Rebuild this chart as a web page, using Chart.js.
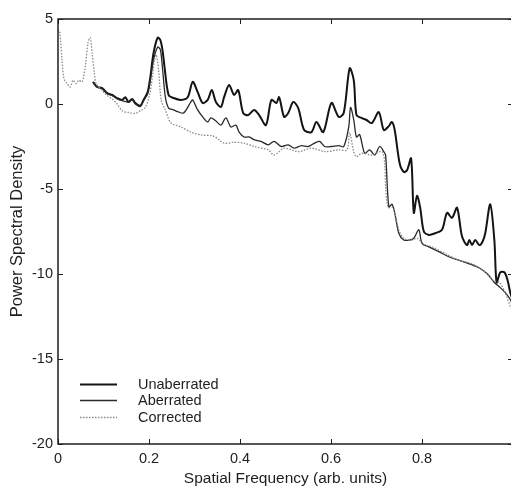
<!DOCTYPE html>
<html>
<head>
<meta charset="utf-8">
<script src="https://cdn.jsdelivr.net/npm/chart.js@4.4.0/dist/chart.umd.min.js"></script>
<style>
  html, body { margin: 0; padding: 0; background: #fff; overflow: hidden; }
  #wrap { width: 518px; height: 491px; }
  #c { display: block; width: 518px; height: 491px; }
</style>
</head>
<body>
<div id="wrap"><canvas id="c" width="518" height="491"></canvas></div>
<script>
// ---- data ----
const seriesNames = ['Unaberrated', 'Aberrated', 'Corrected'];
const xTickValues = [0, 0.2, 0.4, 0.6, 0.8];
const xTickLabels = ['0', '0.2', '0.4', '0.6', '0.8'];
const yTickValues = [5, 0, -5, -10, -15, -20];
const yTickLabels = ['5', '0', '-5', '-10', '-15', '-20'];
const xTitle = 'Spatial Frequency (arb. units)';
const yTitle = 'Power Spectral Density';

const unabX = [0.077,0.086,0.097,0.108,0.119,0.130,0.141,0.148,0.155,0.163,0.170,0.181,0.188,0.197,0.203,0.210,0.219,0.225,0.230,0.234,0.243,0.254,0.270,0.285,0.296,0.307,0.318,0.329,0.338,0.347,0.358,0.365,0.376,0.387,0.396,0.407,0.418,0.431,0.442,0.457,0.469,0.480,0.486,0.497,0.506,0.517,0.528,0.541,0.557,0.568,0.583,0.601,0.617,0.628,0.641,0.650,0.656,0.667,0.678,0.690,0.705,0.716,0.727,0.734,0.740,0.751,0.760,0.767,0.776,0.782,0.789,0.796,0.804,0.815,0.829,0.844,0.855,0.866,0.877,0.888,0.899,0.904,0.910,0.917,0.926,0.933,0.939,0.950,0.959,0.964,0.972,0.981,0.988,0.994,0.999,1.0];
const unabY = [1.3,1.0,0.94,0.65,0.53,0.35,0.24,0.4,0.12,0.3,0.06,-0.1,0.24,0.7,1.6,3.0,3.9,3.76,3.1,2.2,0.53,0.35,0.24,0.4,1.3,0.7,0.06,0.24,0.82,0.12,-0.17,0.4,1.12,0.53,0.82,-0.53,-0.65,-0.35,-0.65,-1.24,0.24,0.06,0.4,-0.76,-0.53,0.12,-0.24,-1.53,-1.65,-1.06,-1.65,0.06,-0.76,-0.53,2.1,1.4,-0.65,-0.82,-0.94,-1.12,-0.47,-1.53,-1.3,-1.06,-1.53,-3.5,-4.0,-3.9,-3.2,-6.4,-5.4,-6.1,-7.5,-7.7,-7.6,-7.4,-6.4,-6.7,-6.1,-7.8,-8.3,-8.0,-8.3,-8.0,-8.3,-8.1,-7.6,-5.9,-8.0,-10.5,-9.9,-9.9,-10.35,-11.1,-11.5,-11.6];

const aberX = [0.077,0.086,0.097,0.108,0.119,0.130,0.141,0.155,0.163,0.170,0.181,0.188,0.197,0.203,0.210,0.219,0.225,0.230,0.236,0.243,0.254,0.263,0.276,0.292,0.296,0.307,0.318,0.329,0.336,0.347,0.358,0.369,0.380,0.391,0.398,0.409,0.420,0.431,0.446,0.462,0.475,0.491,0.506,0.519,0.535,0.550,0.564,0.575,0.586,0.601,0.617,0.628,0.639,0.643,0.650,0.656,0.663,0.674,0.685,0.696,0.707,0.716,0.720,0.727,0.734,0.740,0.749,0.760,0.773,0.782,0.793,0.800,0.815,0.838,0.860,0.882,0.904,0.926,0.944,0.959,0.972,0.983,0.994,1.0];
const aberY = [1.3,1.0,0.9,0.6,0.5,0.3,0.2,0.1,0.25,0.0,-0.15,0.2,0.6,1.4,2.6,3.35,3.2,2.0,0.4,-0.24,-0.35,-0.45,-0.53,0.12,0.24,-0.35,-0.76,-1.06,-0.82,-1.0,-1.24,-0.82,-1.35,-1.24,-1.65,-1.94,-1.94,-2.1,-2.2,-2.4,-2.2,-2.5,-2.4,-2.6,-2.45,-2.5,-2.3,-2.2,-2.5,-2.5,-2.45,-2.5,-1.35,-0.2,-0.94,-1.94,-1.8,-2.9,-2.7,-3.0,-2.5,-2.8,-3.0,-6.05,-5.9,-6.4,-7.6,-8.0,-8.0,-7.9,-7.4,-8.2,-8.4,-8.7,-9.0,-9.2,-9.4,-9.65,-10.0,-10.5,-10.8,-11.1,-11.5,-11.9];

const corrX = [0.000,0.004,0.009,0.013,0.020,0.027,0.033,0.040,0.046,0.053,0.060,0.066,0.071,0.075,0.080,0.084,0.097,0.108,0.119,0.130,0.141,0.155,0.170,0.181,0.192,0.201,0.207,0.212,0.216,0.221,0.227,0.236,0.248,0.270,0.292,0.314,0.343,0.365,0.387,0.409,0.431,0.462,0.475,0.497,0.528,0.557,0.586,0.617,0.635,0.641,0.650,0.656,0.667,0.690,0.712,0.718,0.720,0.723,0.727,0.734,0.740,0.749,0.760,0.778,0.789,0.807,0.822,0.851,0.882,0.910,0.939,0.955,0.970,0.983,0.994,1.0];
const corrY = [4.4,4.2,2.5,1.5,1.2,1.0,1.4,1.2,1.4,1.3,2.2,3.6,3.9,3.0,1.8,1.2,0.8,0.5,0.3,0.0,-0.4,-0.5,-0.55,-0.4,-0.2,0.5,1.5,2.6,2.9,2.0,0.2,-0.35,-1.1,-1.35,-1.65,-1.82,-1.9,-2.3,-2.25,-2.3,-2.5,-2.7,-3.0,-2.6,-2.8,-2.6,-2.8,-2.7,-2.7,-1.7,-2.8,-3.1,-2.9,-3.0,-2.8,-3.5,-4.9,-5.8,-6.1,-6.05,-6.4,-7.4,-7.9,-8.0,-7.9,-8.3,-8.4,-8.8,-9.2,-9.4,-9.9,-10.35,-10.5,-11.1,-11.9,-12.1];

const toPts = (xs, ys) => xs.map((x, i) => ({ x: x, y: ys[i] }));

const FONT = "'Liberation Sans', Arial, Helvetica, sans-serif";
const INK = '#1e1e1e';

const styles = [
  { color: '#141414', width: 2.0, dash: [] },
  { color: '#2a2a2a', width: 1.3, dash: [] },
  { color: '#8a8a8a', width: 1.3, dash: [1.5, 1.5] }
];

const frameAndLegend = {
  id: 'frameAndLegend',
  afterDatasetsDraw(chart) {
    const { ctx, chartArea: a, scales } = chart;
    ctx.save();
    ctx.strokeStyle = INK;
    ctx.lineWidth = 1.5;
    ctx.strokeRect(a.left, a.top, a.right - a.left, a.bottom - a.top);
    ctx.lineWidth = 1;
    const tl = 5;
    xTickValues.forEach(v => {
      const px = Math.round(scales.x.getPixelForValue(v)) + 0.5;
      ctx.beginPath();
      ctx.moveTo(px, a.bottom); ctx.lineTo(px, a.bottom - tl);
      ctx.moveTo(px, a.top); ctx.lineTo(px, a.top + tl);
      ctx.stroke();
    });
    yTickValues.forEach(v => {
      const py = Math.round(scales.y.getPixelForValue(v)) + 0.5;
      ctx.beginPath();
      ctx.moveTo(a.left, py); ctx.lineTo(a.left + tl, py);
      ctx.moveTo(a.right, py); ctx.lineTo(a.right - tl, py);
      ctx.stroke();
    });
    // legend inside the plot area, lower left
    const lx0 = a.left + 22, lx1 = a.left + 59, tx = a.left + 80;
    const baseY = scales.y.getPixelForValue(-16.45);
    const step = 16.5;
    ctx.font = '14.5px ' + FONT;
    ctx.textBaseline = 'middle';
    ctx.fillStyle = INK;
    seriesNames.forEach((name, i) => {
      const y = Math.round(baseY + i * step) + 0.5;
      const s = styles[i];
      ctx.strokeStyle = s.color;
      ctx.lineWidth = s.width;
      ctx.setLineDash(s.dash);
      ctx.beginPath(); ctx.moveTo(lx0, y); ctx.lineTo(lx1, y); ctx.stroke();
      ctx.setLineDash([]);
      ctx.fillText(name, tx, y);
    });
    ctx.restore();
  }
};

new Chart(document.getElementById('c'), {
  type: 'line',
  data: {
    datasets: [
      { label: seriesNames[0], data: toPts(unabX, unabY) },
      { label: seriesNames[1], data: toPts(aberX, aberY) },
      { label: seriesNames[2], data: toPts(corrX, corrY) }
    ].map((d, i) => Object.assign(d, {
      borderColor: styles[i].color,
      borderWidth: styles[i].width,
      borderDash: styles[i].dash,
      pointRadius: 0,
      tension: 0.3,
      fill: false,
      order: 3 - i
    }))
  },
  options: {
    responsive: false,
    animation: false,
    devicePixelRatio: 1,
    layout: { padding: { top: 19, right: 5, left: 0, bottom: 0 } },
    plugins: { legend: { display: false }, tooltip: { enabled: false } },
    scales: {
      x: {
        type: 'linear', min: 0, max: 1,
        afterBuildTicks: s => { s.ticks = xTickValues.map(v => ({ value: v })); },
        afterFit: s => { s.height = 47; },
        grid: { display: false, drawTicks: false },
        border: { display: false },
        ticks: {
          padding: 6, color: INK, font: { family: FONT, size: 14.5 },
          maxRotation: 0,
          callback: (v) => { const i = xTickValues.indexOf(v); return i >= 0 ? xTickLabels[i] : ''; }
        },
        title: { display: true, text: xTitle, color: INK, font: { family: FONT, size: 15.5 }, padding: { top: 2, bottom: 3 } }
      },
      y: {
        type: 'linear', min: -20, max: 5,
        afterBuildTicks: s => { s.ticks = yTickValues.map(v => ({ value: v })); },
        afterFit: s => { s.width = 58; },
        grid: { display: false, drawTicks: false },
        border: { display: false },
        ticks: {
          padding: 5, color: INK, font: { family: FONT, size: 14.5 },
          callback: (v) => { const i = yTickValues.indexOf(v); return i >= 0 ? yTickLabels[i] : ''; }
        },
        title: { display: true, text: yTitle, color: INK, font: { family: FONT, size: 16.5 }, padding: { top: 8, bottom: 0 } }
      }
    }
  },
  plugins: [frameAndLegend]
});
</script>
</body>
</html>
